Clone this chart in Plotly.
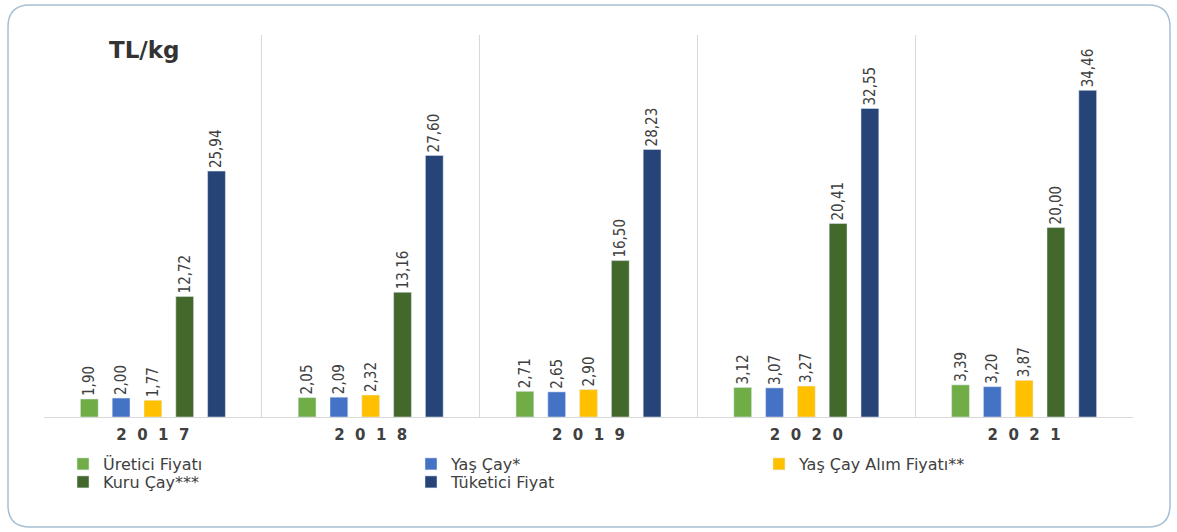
import plotly.graph_objects as go

years = ["2017", "2018", "2019", "2020", "2021"]
uretici = [1.90, 2.05, 2.71, 3.12, 3.39]
yas_cay = [2.00, 2.09, 2.65, 3.07, 3.20]
alim_fiyati = [1.77, 2.32, 2.90, 3.27, 3.87]
kuru_cay = [12.72, 13.16, 16.50, 20.41, 20.00]
tuketici = [25.94, 27.60, 28.23, 32.55, 34.46]

# name, values, colour, legend row
series = [
    ("Üretici Fiyatı", uretici, "#70AD47", "legend"),
    ("Yaş Çay*", yas_cay, "#4472C4", "legend"),
    ("Yaş Çay Alım Fiyatı**", alim_fiyati, "#FFC000", "legend"),
    ("Kuru Çay***", kuru_cay, "#43682B", "legend2"),
    ("Tüketici Fiyat", tuketici, "#264478", "legend2"),
]

W, H = 1177, 532
ML, MR, MT, MB = 44, 44, 35, 115
PW, PH = W - ML - MR, H - MT - MB


def px_x(x):
    return (x - ML) / PW


def px_y(y):
    return (H - MB - y) / PH


fig = go.Figure()
for name, vals, color, leg in series:
    fig.add_trace(go.Bar(
        x=years,
        y=vals,
        name=name,
        legend=leg,
        marker_color=color,
        text=[f"{v:.2f}".replace(".", ",") for v in vals],
        textposition="outside",
        textangle=-90,
        constraintext="none",
        cliponaxis=False,
        textfont=dict(family="Liberation Sans Narrow, DejaVu Sans Condensed, Arial Narrow",
                      size=15, color="#404040"),
    ))

# rounded frame around the whole chart
x0, x1, y0, y1, r = 8, 1170, 5, 527, 22
path = (
    f"M {px_x(x0 + r)},{px_y(y0)} L {px_x(x1 - r)},{px_y(y0)} "
    f"Q {px_x(x1)},{px_y(y0)} {px_x(x1)},{px_y(y0 + r)} "
    f"L {px_x(x1)},{px_y(y1 - r)} "
    f"Q {px_x(x1)},{px_y(y1)} {px_x(x1 - r)},{px_y(y1)} "
    f"L {px_x(x0 + r)},{px_y(y1)} "
    f"Q {px_x(x0)},{px_y(y1)} {px_x(x0)},{px_y(y1 - r)} "
    f"L {px_x(x0)},{px_y(y0 + r)} "
    f"Q {px_x(x0)},{px_y(y0)} {px_x(x0 + r)},{px_y(y0)} Z"
)
fig.add_shape(type="path", path=path, xref="paper", yref="paper",
              line=dict(color="#A7C0D4", width=1.5), layer="below")

fig.add_annotation(
    text="<b>TL/kg</b>", xref="paper", yref="paper",
    x=px_x(107), y=px_y(50), xanchor="left", yanchor="middle",
    showarrow=False,
    font=dict(family="DejaVu Sans, sans-serif", size=23, color="#333333"),
)

legend_style = dict(
    orientation="h",
    xanchor="left", yanchor="middle",
    entrywidth=303,
    itemwidth=30,
    tracegroupgap=0,
    font=dict(family="DejaVu Sans, sans-serif", size=16, color="#404040"),
    itemclick=False,
    bgcolor="rgba(0,0,0,0)",
)

fig.update_layout(
    width=W,
    height=H,
    margin=dict(l=ML, r=MR, t=MT, b=MB),
    plot_bgcolor="white",
    paper_bgcolor="white",
    barmode="group",
    bargap=0.27,
    bargroupgap=0.44,
    showlegend=True,
    legend=dict(x=px_x(63), y=px_y(464), **legend_style),
    legend2=dict(x=px_x(63), y=px_y(482), **legend_style),
    xaxis=dict(
        tickson="boundaries",
        showgrid=True,
        gridcolor="#D9D9D9",
        gridwidth=1,
        showline=True,
        linecolor="#D9D9D9",
        ticks="",
        ticklabelstandoff=4,
        tickvals=years,
        ticktext=["<b>" + "\u2007".join(y) + "</b>" for y in years],
        tickfont=dict(family="DejaVu Sans, sans-serif", size=15, color="#404040"),
        mirror=False,
    ),
    yaxis=dict(
        range=[0, 40.3],
        showgrid=False,
        zeroline=False,
        showticklabels=False,
        showline=False,
    ),
)

fig.write_html("out.html", config={"displayModeBar": False},
               post_script="document.body.style.margin='0';")
